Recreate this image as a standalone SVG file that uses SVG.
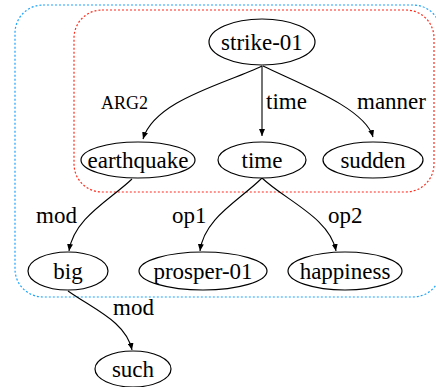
<svg xmlns="http://www.w3.org/2000/svg" width="436" height="387" viewBox="0 0 436 387" font-family="'Liberation Serif', Tinos, Times, 'Nimbus Roman', 'Nimbus Roman No9 L', FreeSerif, 'Noto Serif', Georgia, serif" font-size="23">
<defs>
<marker id="arr" markerUnits="userSpaceOnUse" markerWidth="8" markerHeight="6" refX="7" refY="3" orient="auto">
<path d="M0,0 L7,3 L0,6 z" fill="#000"/>
</marker>
</defs>
<style>
.n ellipse{fill:#fff;stroke:#000;stroke-width:1.2}
.n text{text-anchor:middle}
.e path{fill:none;stroke:#000;stroke-width:1.1;marker-end:url(#arr)}
.cl{fill:none;stroke-width:1.2;stroke-dasharray:2,2}
</style>
<rect class="cl" x="15" y="5" width="426" height="292" rx="28" ry="28" stroke="#1aa3ff"/>
<rect class="cl" x="74" y="10" width="360" height="182" rx="28" ry="28" stroke="#ff2a1a"/>
<g id="edges" class="e">
<path d="M262,66 C225,84 155,100 143,139"/>
<path d="M262,66 L262,136"/>
<path d="M263,66 C300,84 365,108 373,137"/>
<path d="M132,179 C110,200 74,218 69,251"/>
<path d="M262,178 C240,200 204,218 200,251"/>
<path d="M262,178 C285,200 330,218 336,251"/>
<path d="M68,291 C95,310 126,322 132,350"/>
</g>
<g id="edge-labels">
<text x="101" y="109" font-size="18">ARG2</text>
<text x="266" y="109">time</text>
<text x="357" y="109">manner</text>
<text x="36" y="223">mod</text>
<text x="172" y="223">op1</text>
<text x="328" y="223">op2</text>
<text x="113" y="315">mod</text>
</g>
<g id="strike-01" class="n"><ellipse cx="262" cy="42" rx="53" ry="23"/><text x="262" y="50">strike-01</text></g>
<g id="earthquake" class="n"><ellipse cx="138" cy="160" rx="57" ry="18"/><text x="138" y="168">earthquake</text></g>
<g id="time" class="n"><ellipse cx="262" cy="160" rx="44" ry="18"/><text x="262" y="168">time</text></g>
<g id="sudden" class="n"><ellipse cx="373" cy="160" rx="50" ry="18"/><text x="373" y="168">sudden</text></g>
<g id="big" class="n"><ellipse cx="68" cy="271" rx="40" ry="19"/><text x="68" y="279">big</text></g>
<g id="prosper-01" class="n"><ellipse cx="203" cy="271" rx="64" ry="19"/><text x="203" y="279">prosper-01</text></g>
<g id="happiness" class="n"><ellipse cx="345" cy="271" rx="57" ry="19"/><text x="345" y="279">happiness</text></g>
<g id="such" class="n"><ellipse cx="133" cy="369" rx="38" ry="18"/><text x="133" y="377">such</text></g>
</svg>
